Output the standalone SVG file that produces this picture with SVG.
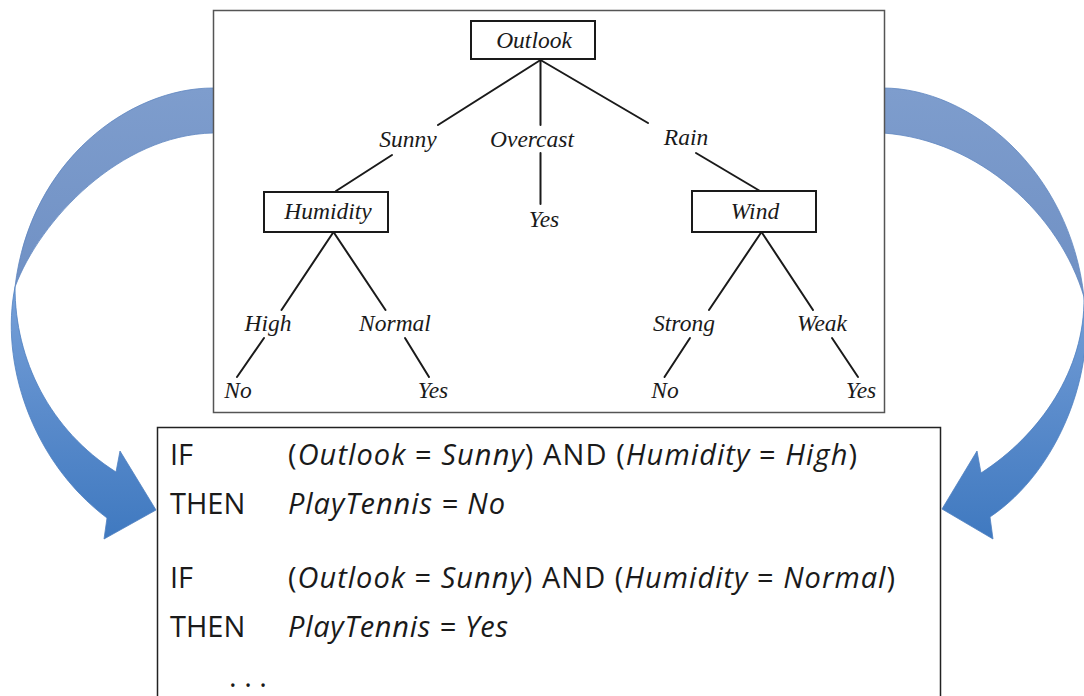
<svg xmlns="http://www.w3.org/2000/svg" width="1084" height="696" viewBox="0 0 1084 696">
  <defs>
    <linearGradient id="bandBack" gradientUnits="userSpaceOnUse" x1="0" y1="88" x2="0" y2="297">
      <stop offset="0" stop-color="#7e9dcd"/>
      <stop offset="1" stop-color="#6f90c4"/>
    </linearGradient>
    <linearGradient id="bandFront" gradientUnits="userSpaceOnUse" x1="0" y1="287" x2="0" y2="540">
      <stop offset="0" stop-color="#76a0d8"/>
      <stop offset="0.5" stop-color="#5a8bcb"/>
      <stop offset="1" stop-color="#3f79c0"/>
    </linearGradient>
    <style>
      .back { fill: url(#bandBack); stroke: #5f86c0; stroke-width: 0.8; }
      .front { fill: url(#bandFront); stroke: #4f80c0; stroke-width: 0.8; }
      .frame { fill: #ffffff; }
      .node rect { fill: #ffffff; stroke: #1a1a1a; stroke-width: 2; }
      .tree { font-family: "Liberation Serif", "Times New Roman", serif; font-style: italic; font-size: 23.5px; fill: #1a1a1a; text-anchor: middle; }
      .edge { stroke: #1a1a1a; stroke-width: 2; fill: none; stroke-linecap: round; }
      .rule { font-family: "Open Sans", "Liberation Sans", sans-serif; font-size: 29px; fill: #1a1a1a; }
      .it { font-style: italic; }
    </style>
  </defs>

  <!-- curved arrows from the tree down to the rule list -->
  <g id="arrows">
    <g id="arrow-left">
      <path class="back" d="M 232,88 L 213,88 C 130,88 30,160 15,287 C 40,220 120,135 213,133 L 232,133 Z"/>
      <path class="front" d="M 15,287 C 0,360 30,460 107,518 L 104,539 L 156,510 L 120,451 L 116,472 C 50,430 15,360 15,287 Z"/>
    </g>
    <g id="arrow-right">
      <path class="back" d="M 866,88 L 883,88 C 970,88 1070,170 1084,297 C 1060,215 980,140 883,133 L 866,133 Z"/>
      <path class="front" d="M 1084,297 C 1096,370 1060,470 990,517 L 993,539 L 942,509 L 977,451 L 981,473 C 1040,435 1085,370 1084,297 Z"/>
    </g>
  </g>

  <!-- decision tree panel -->
  <rect id="tree-panel" class="frame" x="213.5" y="10.5" width="671" height="402" stroke="#555555" stroke-width="1.5"/>

  <g id="tree-edges">
    <line class="edge" x1="540.5" y1="60" x2="438" y2="125"/>
    <line class="edge" x1="540.5" y1="60" x2="540.5" y2="125"/>
    <line class="edge" x1="540.5" y1="60" x2="648" y2="123"/>
    <line class="edge" x1="392" y1="155" x2="336" y2="191"/>
    <line class="edge" x1="540.5" y1="153" x2="540.5" y2="204"/>
    <line class="edge" x1="696" y1="153" x2="760" y2="191"/>
    <line class="edge" x1="333.5" y1="232" x2="281.5" y2="310"/>
    <line class="edge" x1="333.5" y1="232" x2="385.5" y2="310"/>
    <line class="edge" x1="264" y1="338" x2="237" y2="377"/>
    <line class="edge" x1="405" y1="338" x2="429" y2="377"/>
    <line class="edge" x1="761.5" y1="232" x2="709" y2="310"/>
    <line class="edge" x1="761.5" y1="232" x2="813" y2="310"/>
    <line class="edge" x1="690" y1="338" x2="664.5" y2="377"/>
    <line class="edge" x1="832" y1="338" x2="858" y2="377"/>
  </g>

  <g id="node-outlook" class="node">
    <rect x="471" y="21" width="124" height="38"/>
    <text class="tree" x="534" y="48">Outlook</text>
  </g>
  <g id="node-humidity" class="node">
    <rect x="264" y="192" width="124" height="40"/>
    <text class="tree" x="328" y="219">Humidity</text>
  </g>
  <g id="node-wind" class="node">
    <rect x="692" y="191" width="124" height="41"/>
    <text class="tree" x="755" y="219">Wind</text>
  </g>

  <g id="branch-labels">
    <text class="tree" x="408" y="147">Sunny</text>
    <text class="tree" x="532" y="147">Overcast</text>
    <text class="tree" x="686" y="145">Rain</text>
    <text class="tree" x="268" y="331">High</text>
    <text class="tree" x="395" y="331">Normal</text>
    <text class="tree" x="684" y="331">Strong</text>
    <text class="tree" x="822" y="331">Weak</text>
  </g>

  <g id="leaves">
    <text class="tree" x="544" y="227">Yes</text>
    <text class="tree" x="238" y="398">No</text>
    <text class="tree" x="433" y="398">Yes</text>
    <text class="tree" x="665" y="398">No</text>
    <text class="tree" x="861" y="398">Yes</text>
  </g>

  <!-- rules read off the tree -->
  <g id="rules">
    <rect class="frame" x="157.5" y="427.5" width="783" height="280" stroke="#222222" stroke-width="1.5"/>
    <text class="rule" x="170" y="465">IF</text>
    <text class="rule" x="288" y="465" textLength="569">(<tspan class="it">Outlook</tspan> = <tspan class="it">Sunny</tspan>) AND (<tspan class="it">Humidity</tspan> = <tspan class="it">High</tspan>)</text>
    <text class="rule" x="170" y="514">THEN</text>
    <text class="rule it" x="288" y="514" textLength="217">PlayTennis = No</text>
    <text class="rule" x="170" y="588">IF</text>
    <text class="rule" x="288" y="588" textLength="607">(<tspan class="it">Outlook</tspan> = <tspan class="it">Sunny</tspan>) AND (<tspan class="it">Humidity</tspan> = <tspan class="it">Normal</tspan>)</text>
    <text class="rule" x="170" y="637">THEN</text>
    <text class="rule it" x="288" y="637" textLength="220">PlayTennis = Yes</text>
    <text class="rule" x="229" y="687">. . .</text>
  </g>
</svg>
